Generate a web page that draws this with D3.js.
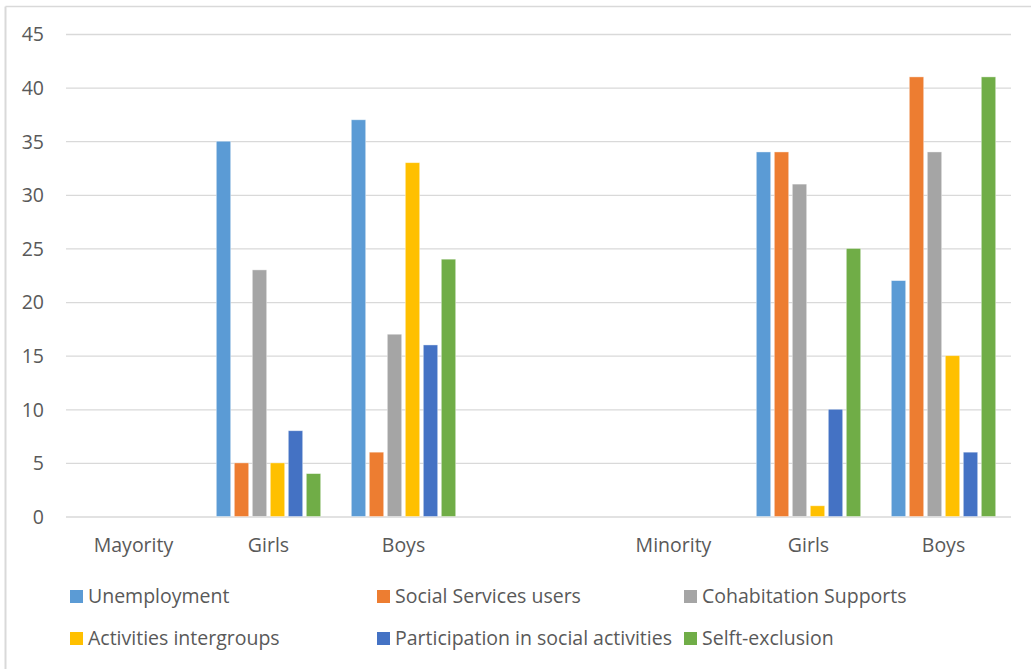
<!DOCTYPE html>
<html>
<head>
<meta charset="utf-8">
<script src="https://cdn.jsdelivr.net/npm/d3@7"></script>
<style>
  body { margin: 0; background: #fff; }
  svg text { font-family: "Open Sans", sans-serif; fill: #595959; }
</style>
</head>
<body>
<svg id="chart"></svg>
<script>
const categories = ['Mayority', 'Girls', 'Boys', '', 'Minority', 'Girls', 'Boys'];
const seriesNames = ['Unemployment', 'Social Services users', 'Cohabitation Supports',
  'Activities intergroups', 'Participation in social activities', 'Selft-exclusion'];
const seriesColors = ['#5B9BD5', '#ED7D31', '#A5A5A5', '#FFC000', '#4472C4', '#70AD47'];

// one array per series, values follow the categories order
const unemployment = [0, 35, 37, 0, 0, 34, 22];
const socialServices = [0, 5, 6, 0, 0, 34, 41];
const cohabitation = [0, 23, 17, 0, 0, 31, 34];
const activities = [0, 5, 33, 0, 0, 1, 15];
const participation = [0, 8, 16, 0, 0, 10, 6];
const selfExclusion = [0, 4, 24, 0, 0, 25, 41];
const yTicks = [0, 5, 10, 15, 20, 25, 30, 35, 40, 45];

const seriesValues = [unemployment, socialServices, cohabitation, activities, participation, selfExclusion];

const width = 1031;
const height = 669;
const margin = { left: 66, right: 20, top: 34, bottom: 152 };
const fontSize = '19.5px';

const svg = d3.select('#chart').attr('width', width).attr('height', height);

// chart area border (top and left only visible)
svg.append('line').attr('x1', 5.5).attr('x2', width).attr('y1', 6.5).attr('y2', 6.5)
  .attr('stroke', '#d9d9d9').attr('stroke-width', 1.5);
svg.append('line').attr('x1', 5.5).attr('x2', 5.5).attr('y1', 6.5).attr('y2', height)
  .attr('stroke', '#d9d9d9').attr('stroke-width', 2);

const x0 = d3.scaleBand().domain(d3.range(categories.length))
  .range([margin.left, width - margin.right])
  .paddingInner(0.2).paddingOuter(0.1);
const x1 = d3.scaleBand().domain(d3.range(seriesNames.length))
  .range([0, x0.bandwidth()])
  .paddingInner(0.2).paddingOuter(0.1);
const y = d3.scaleLinear().domain([0, 45]).range([height - margin.bottom - 0.5, margin.top]);

// gridlines
const grid = svg.append('g').attr('class', 'grid')
  .attr('transform', 'translate(' + margin.left + ',0)')
  .call(d3.axisLeft(y).tickValues(yTicks).tickSize(-(x0.range()[1] - margin.left)).tickFormat(''));
grid.select('.domain').remove();
grid.selectAll('line').attr('stroke', '#d9d9d9').attr('stroke-width', 1.3);

// y labels
const yAxis = svg.append('g')
  .attr('transform', 'translate(' + (margin.left - 15) + ',0)')
  .call(d3.axisLeft(y).tickValues(yTicks).tickSize(0).tickPadding(7));
yAxis.select('.domain').remove();
yAxis.selectAll('text').style('font-size', fontSize).attr('fill', '#595959').attr('dy', '0.35em');

// bars
const groups = svg.append('g').selectAll('g')
  .data(categories)
  .enter().append('g')
  .attr('transform', function(d, i) { return 'translate(' + x0(i) + ',0)'; });

groups.selectAll('rect')
  .data(function(d, i) {
    return seriesValues.map(function(vals, s) { return { s: s, v: vals[i] }; });
  })
  .enter().append('rect')
  .filter(function(d) { return d.v > 0; })
  .attr('x', function(d) { return x1(d.s); })
  .attr('width', x1.bandwidth())
  .attr('y', function(d) { return y(d.v); })
  .attr('height', function(d) { return y(0) - y(d.v); })
  .attr('fill', function(d) { return seriesColors[d.s]; })
  .attr('stroke', '#fff').attr('stroke-opacity', 0.5).attr('stroke-width', 0.8);

// x labels
svg.append('g').selectAll('text')
  .data(categories)
  .enter().append('text')
  .attr('x', function(d, i) { return x0(i) + x0.bandwidth() / 2; })
  .attr('y', 552)
  .attr('text-anchor', 'middle')
  .style('font-size', fontSize)
  .text(function(d) { return d; });

// legend
const legendCols = [70, 377, 684];
const legendRows = [590, 632];
const legend = svg.append('g').selectAll('g')
  .data(seriesNames)
  .enter().append('g')
  .attr('transform', function(d, i) {
    return 'translate(' + legendCols[i % 3] + ',' + legendRows[Math.floor(i / 3)] + ')';
  });
legend.append('rect').attr('width', 13).attr('height', 13)
  .attr('fill', function(d, i) { return seriesColors[i]; });
legend.append('text').attr('x', 18).attr('y', 13)
  .style('font-size', fontSize)
  .text(function(d) { return d; });
</script>
</body>
</html>
